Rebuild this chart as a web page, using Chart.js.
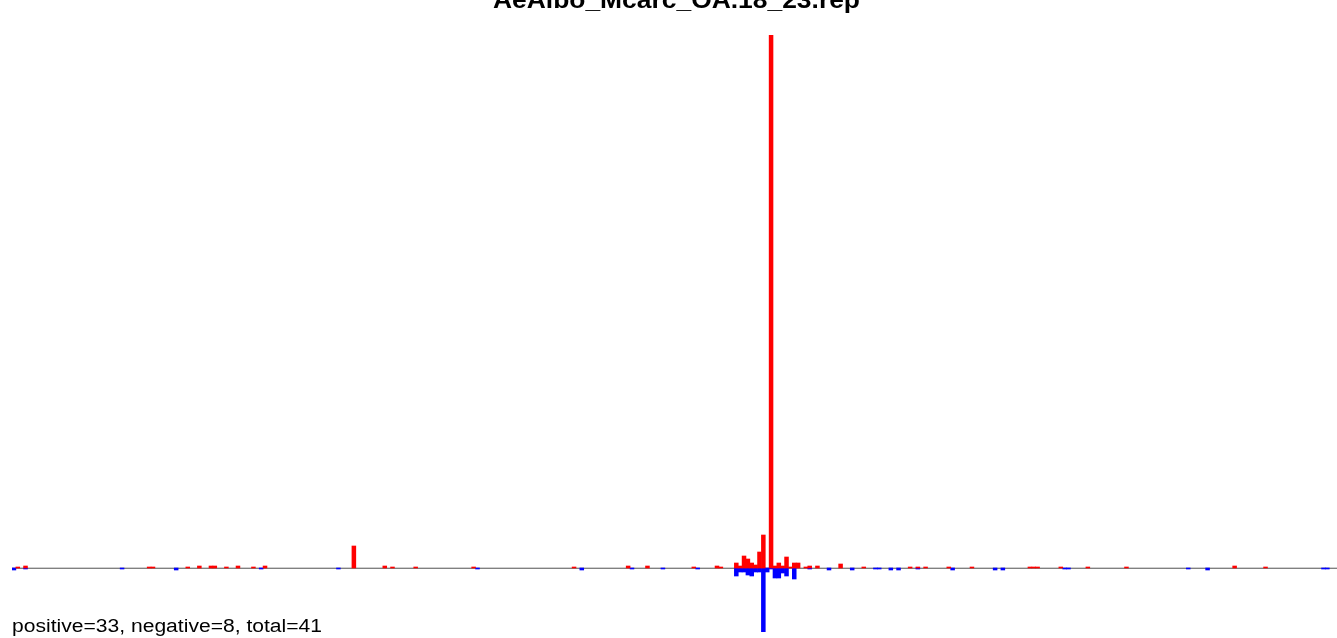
<!DOCTYPE html>
<html>
<head>
<meta charset="utf-8">
<script src="https://cdn.jsdelivr.net/npm/chart.js@4/dist/chart.umd.min.js"></script>
<style>
  body { margin: 0; background: #fff; }
  #wrap { position: relative; width: 1337px; height: 638px; }
  #overlay { position: absolute; left: 0; top: 0; }
</style>
</head>
<body>
<div id="wrap">
  <canvas id="chart" width="1337" height="638"></canvas>
  <svg id="overlay" width="1337" height="638">
    <text x="676.5" y="8" text-anchor="middle" font-family="Liberation Sans, Arial, sans-serif" font-weight="bold" font-size="23" textLength="367" lengthAdjust="spacingAndGlyphs">AeAlbo_Mcarc_OA.18_23.rep</text>
    <text x="12" y="632" font-family="Liberation Sans, Arial, sans-serif" font-size="18" textLength="310" lengthAdjust="spacingAndGlyphs">positive=33, negative=8, total=41</text>
  </svg>
</div>
<script>
// number of bins along the x axis
var nBins = 343;

// bins with a positive count and their counts
var posBins = [1,3,35,36,45,48,51,52,55,58,62,65,88,96,98,104,119,145,159,164,
               176,182,183,187,188,189,190,191,192,193,194,196,197,198,199,200,201,202,203,205,
               206,208,214,220,232,234,236,242,248,263,264,265,271,278,288,316,324];
var posVals = [1,2,1,1,1,2,2,2,1,2,1,2,22,2,1,1,1,1,2,2,
               1,2,1,5,2,12,9,5,3,16,33,533,2,5,2,11,1,5,5,1,
               2,2,4,1,1,1,1,1,1,1,1,1,1,1,1,2,1];

// bins with a negative count and their counts
var negBins = [0,3,28,42,64,84,120,147,160,168,177,187,188,189,190,191,192,193,194,195,
               196,197,198,199,200,202,206,211,217,223,224,227,229,234,243,254,256,272,273,304,
               309,339,340];
var negVals = [-2,-1,-1,-2,-1,-1,-1,-2,-1,-1,-1,-8,-4,-4,-7,-8,-4,-4,-64,-4,
               -1,-10,-10,-5,-8,-11,-1,-2,-2,-1,-1,-2,-2,-1,-2,-2,-2,-1,-1,-1,
               -2,-1,-1];

var labels = [];
var posData = [];
var negData = [];
for (var i = 0; i < nBins; i++) {
	labels.push(String(i));
	posData.push(null);
	negData.push(null);
}
for (var i = 0; i < posBins.length; i++) posData[posBins[i]] = posVals[i];
for (var i = 0; i < negBins.length; i++) negData[negBins[i]] = negVals[i];

// gray zero line under the bars
var zeroLine = {
	id: 'zeroLine',
	beforeDatasetsDraw: function(chart) {
		var ctx = chart.ctx;
		var area = chart.chartArea;
		var y0 = Math.round(chart.scales.y.getPixelForValue(0));
		ctx.save();
		ctx.fillStyle = '#cfcfcf';
		ctx.fillRect(area.left, y0 - 1, area.right - area.left, 1);
		ctx.fillStyle = '#808080';
		ctx.fillRect(area.left, y0, area.right - area.left, 1);
		ctx.restore();
	}
};

new Chart(document.getElementById('chart'), {
	type: 'bar',
	data: {
		labels: labels,
		datasets: [
			{
				label: 'positive',
				data: posData,
				backgroundColor: '#ff0000',
				borderWidth: 0,
				barPercentage: 1,
				categoryPercentage: 1
			},
			{
				label: 'negative',
				data: negData,
				backgroundColor: '#0000ff',
				borderWidth: 0,
				barPercentage: 1,
				categoryPercentage: 1
			}
		]
	},
	options: {
		responsive: false,
		animation: false,
		layout: { padding: { left: 12, right: 0, top: 35, bottom: 6 } },
		plugins: {
			legend: { display: false },
			tooltip: { enabled: false },
			title: { display: false }
		},
		scales: {
			x: { stacked: true, display: false },
			y: { stacked: true, display: false, min: -64, max: 533 }
		}
	},
	plugins: [zeroLine]
});
</script>
</body>
</html>
